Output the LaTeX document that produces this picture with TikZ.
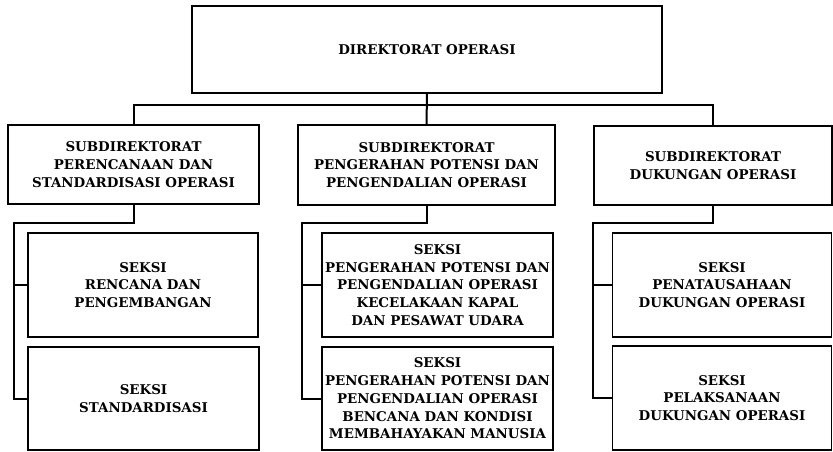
\documentclass[tikz,border=0pt]{standalone}
\usepackage{fontspec}
\setmainfont{DejaVu Serif}

\begin{document}
\begin{tikzpicture}[
    x=1pt,
    y=-1pt,
    every path/.style={line join=miter},
    unit/.style={draw,line width=1.6pt,align=center,inner sep=0pt,
      font=\bfseries\fontsize{13.4}{17.8}\selectfont},
    link/.style={line width=2pt}
  ]
    \useasboundingbox (0,0) rectangle (833,451);

    % Director and the three sub-directorates.
    \node[unit,minimum width=470pt,minimum height=87pt] (dirops) at (427,49.5)
      {DIREKTORAT OPERASI};
    \node[unit,minimum width=251pt,minimum height=79pt] (sub1) at (133.5,164.5)
      {SUBDIREKTORAT\\PERENCANAAN DAN\\STANDARDISASI OPERASI};
    \node[unit,minimum width=257pt,minimum height=80pt] (sub2) at (426.5,165)
      {SUBDIREKTORAT\\PENGERAHAN POTENSI DAN\\PENGENDALIAN OPERASI};
    \node[unit,minimum width=238pt,minimum height=79pt] (sub3) at (713,165.5)
      {SUBDIREKTORAT\\DUKUNGAN OPERASI};

    % Sections under each sub-directorate.
    \node[unit,minimum width=230pt,minimum height=104pt] (sek1a) at (143,285)
      {SEKSI\\RENCANA DAN\\PENGEMBANGAN};
    \node[unit,minimum width=231pt,minimum height=103pt] (sek1b) at (143.5,398.5)
      {SEKSI\\STANDARDISASI};
    \node[unit,minimum width=231pt,minimum height=104pt] (sek2a) at (437.5,285)
      {SEKSI\\PENGERAHAN POTENSI DAN\\PENGENDALIAN OPERASI\\KECELAKAAN KAPAL\\DAN PESAWAT UDARA};
    \node[unit,minimum width=231pt,minimum height=103pt] (sek2b) at (437.5,398.5)
      {SEKSI\\PENGERAHAN POTENSI DAN\\PENGENDALIAN OPERASI\\BENCANA DAN KONDISI\\MEMBAHAYAKAN MANUSIA};
    \node[unit,minimum width=219pt,minimum height=104pt] (sek3a) at (722,285)
      {SEKSI\\PENATAUSAHAAN\\DUKUNGAN OPERASI};
    \node[unit,minimum width=219pt,minimum height=104pt] (sek3b) at (722,398)
      {SEKSI\\PELAKSANAAN\\DUKUNGAN OPERASI};

    % Top bus.
    \coordinate (bus) at (426,105);
    \draw[link] (dirops.south) -- (sub2.north);
    \draw[link] (sub1.north) |- (bus) -| (sub3.north);

    % Trunks down the left side of each column.
    \foreach \sub/\tx/\upper/\lower in {sub1/14/sek1a/sek1b,sub2/302/sek2a/sek2b,sub3/593/sek3a/sek3b}{%
      \coordinate (trunk) at (\tx,223);
      \draw[link] (\sub.south) |- (trunk) |- (\upper.west);
      \draw[link] (trunk) |- (\lower.west);
    }
  \end{tikzpicture}
\end{document}
